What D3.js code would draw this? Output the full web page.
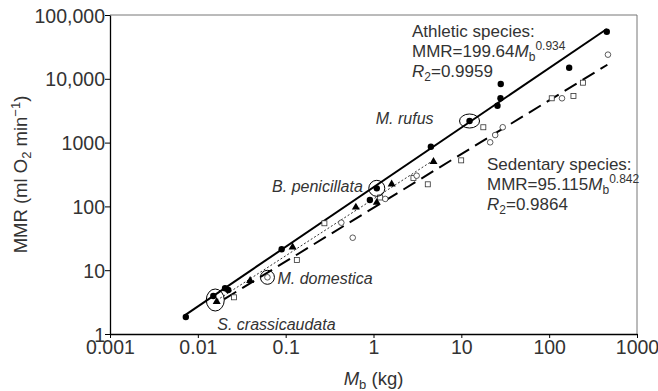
<!DOCTYPE html>
<html>
<head>
<meta charset="utf-8">
<script src="https://cdn.jsdelivr.net/npm/d3@7"></script>
<style>
    body { margin: 0; background: #fff; }
    text { font-family: "Liberation Sans", Arial, Helvetica, sans-serif; fill: #333; }
</style>
</head>
<body>
<svg id="chart"></svg>
<script>

// athletic species (filled circles)
const athleticM   = [0.0073, 0.015, 0.0204, 0.0222, 0.090, 0.91, 1.09, 4.5, 12.4, 25.8, 27.9, 28.1, 169, 453];
const athleticMMR = [1.85, 3.94, 5.2, 4.9, 21.3, 126, 192, 862, 2180, 3790, 4950, 8290, 14900, 54700];

// intermediate group (filled triangles, dotted fit)
const triM   = [0.0164, 0.0394, 0.12, 0.63, 1.09, 1.61, 4.82];
const triMMR = [3.21, 6.85, 22.9, 96.8, 115, 224, 502];

// sedentary species: open circles and open squares
const sedCircM   = [0.062, 0.43, 0.58, 1.36, 3.1, 21.3, 24.3, 29.6, 140, 467];
const sedCircMMR = [7.74, 55.6, 32.3, 131, 303, 1011, 1315, 1740, 4950, 23900];
const sedSqM     = [0.0258, 0.134, 0.276, 1.19, 2.85, 4.15, 9.96, 17.8, 107, 189, 242];
const sedSqMMR   = [3.76, 14.4, 54.4, 138, 278, 222, 527, 1740, 4950, 5370, 8690];

// fitted allometric lines
const athleticFit = {a: 199.64, b: 0.934, r2: "0.9959", range: [0.0073, 453]};
const sedentaryFit = {a: 95.115, b: 0.842, r2: "0.9864", range: [0.02, 460]};

// circled species
const speciesNames = ["S. crassicaudata", "M. domestica", "B. penicillata", "M. rufus"];
const speciesM     = [0.0158, 0.062, 1.09, 12.4];
const speciesMMR   = [3.41, 7.74, 192, 2180];

const xTicks = [0.001, 0.01, 0.1, 1, 10, 100, 1000];
const xTickLabels = ["0.001", "0.01", "0.1", "1", "10", "100", "1000"];
const yTicks = [1, 10, 100, 1000, 10000, 100000];
const yTickLabels = ["1", "10", "100", "1000", "10,000", "100,000"];

const width = 658, height = 391;
const margin = {top: 15, right: 21, bottom: 57, left: 110};

const svg = d3.select("#chart")
    .attr("width", width)
    .attr("height", height);

const x = d3.scaleLog().domain([0.001, 1000]).range([margin.left, width - margin.right]);
const y = d3.scaleLog().domain([1, 100000]).range([height - margin.bottom, margin.top]);

// frame (top / right in grey)
svg.append("line")
    .attr("x1", x(0.001)).attr("x2", x(1000))
    .attr("y1", y(100000)).attr("y2", y(100000))
    .attr("stroke", "#777").attr("stroke-width", 1);
svg.append("line")
    .attr("x1", x(1000)).attr("x2", x(1000))
    .attr("y1", y(100000)).attr("y2", y(1))
    .attr("stroke", "#777").attr("stroke-width", 1);

// axes
const xAxis = svg.append("g")
    .attr("transform", `translate(0,${y(1)})`)
    .call(d3.axisBottom(x).tickValues(xTicks).tickFormat((d, i) => xTickLabels[i]).tickSize(4).tickSizeOuter(0));
const yAxis = svg.append("g")
    .attr("transform", `translate(${x(0.001)},0)`)
    .call(d3.axisLeft(y).tickValues(yTicks).tickFormat((d, i) => yTickLabels[i]).tickSize(5).tickSizeOuter(0));

[xAxis, yAxis].forEach(g => {
    g.select(".domain").attr("stroke", "#000").attr("stroke-width", 1.3);
    g.selectAll(".tick line").attr("stroke", "#000");
    g.selectAll(".tick text")
        .style("font-family", '"Liberation Sans", Arial, sans-serif')
        .style("font-size", "19.5px")
        .attr("fill", "#333");
});
xAxis.selectAll(".tick text").attr("dy", "0.8em").attr("y", 4);
yAxis.selectAll(".tick text").attr("x", -5).attr("dy", "0.36em");

// axis titles
const xLabel = svg.append("text")
    .attr("x", (x(0.001) + x(1000)) / 2)
    .attr("y", 385)
    .attr("text-anchor", "middle")
    .style("font-size", "18.5px");
xLabel.append("tspan").style("font-style", "italic").text("M");
xLabel.append("tspan").attr("dy", 4).style("font-size", "13px").text("b");
xLabel.append("tspan").attr("dy", -4).text(" (kg)");

const yLabel = svg.append("text")
    .attr("transform", `translate(27,${(y(1) + y(100000)) / 2}) rotate(-90)`)
    .attr("text-anchor", "middle")
    .style("font-size", "18.5px");
yLabel.append("tspan").text("MMR (ml O");
yLabel.append("tspan").attr("dy", 4).style("font-size", "13px").text("2");
yLabel.append("tspan").attr("dy", -4).text(" min");
yLabel.append("tspan").attr("dy", -7).style("font-size", "13px").text("\u22121");
yLabel.append("tspan").attr("dy", 7).text(")");

// fit lines
function fitPoints(fit) {
    return fit.range.map(m => [m, fit.a * Math.pow(m, fit.b)]);
}
const line = d3.line().x(d => x(d[0])).y(d => y(d[1]));

svg.append("path")
    .attr("d", line(fitPoints(athleticFit)))
    .attr("stroke", "#000").attr("stroke-width", 2).attr("fill", "none");
svg.append("path")
    .attr("d", line(fitPoints(sedentaryFit)))
    .attr("stroke", "#000").attr("stroke-width", 2).attr("fill", "none")
    .attr("stroke-dasharray", "14,7");

// least squares on log-log for the triangle group
const lx = triM.map(Math.log10), ly = triMMR.map(Math.log10);
const mx = d3.mean(lx), my = d3.mean(ly);
const slope = d3.sum(lx, (v, i) => (v - mx) * (ly[i] - my)) / d3.sum(lx, v => (v - mx) * (v - mx));
const icpt = my - slope * mx;
const triRange = d3.extent(triM);
svg.append("path")
    .attr("d", line(triRange.map(m => [m, Math.pow(10, icpt + slope * Math.log10(m))])))
    .attr("stroke", "#333").attr("stroke-width", 1).attr("fill", "none")
    .attr("stroke-dasharray", "2,2");

// markers
const marks = svg.append("g");
marks.selectAll(".sq").data(d3.zip(sedSqM, sedSqMMR)).join("rect")
    .attr("x", d => x(d[0]) - 2.5).attr("y", d => y(d[1]) - 2.5)
    .attr("width", 5).attr("height", 5)
    .attr("fill", "#fff").attr("stroke", "#333").attr("stroke-width", 0.8);
marks.selectAll(".oc").data(d3.zip(sedCircM, sedCircMMR)).join("circle")
    .attr("cx", d => x(d[0])).attr("cy", d => y(d[1])).attr("r", 2.8)
    .attr("fill", "#fff").attr("stroke", "#333").attr("stroke-width", 0.8);
marks.selectAll(".tri").data(d3.zip(triM, triMMR)).join("path")
    .attr("d", d3.symbol(d3.symbolTriangle, 28))
    .attr("transform", d => `translate(${x(d[0])},${y(d[1])})`)
    .attr("fill", "#000");
marks.selectAll(".fc").data(d3.zip(athleticM, athleticMMR)).join("circle")
    .attr("cx", d => x(d[0])).attr("cy", d => y(d[1])).attr("r", 3.2)
    .attr("fill", "#000");

// circled species
const ellipseR = [[9, 11], [7, 7], [8, 8], [10, 7]];
const labelOff = [[2, 30, "start"], [10, 7, "start"], [-14, 4, "end"], [-36, 3, "end"]];
speciesNames.forEach((name, i) => {
    const cx = x(speciesM[i]), cy = y(speciesMMR[i]);
    svg.append("ellipse")
        .attr("cx", cx).attr("cy", cy)
        .attr("rx", ellipseR[i][0]).attr("ry", ellipseR[i][1])
        .attr("fill", "none").attr("stroke", "#000").attr("stroke-width", 1);
    svg.append("text")
        .attr("x", cx + labelOff[i][0]).attr("y", cy + labelOff[i][1])
        .attr("text-anchor", labelOff[i][2])
        .style("font-size", "16px").style("font-style", "italic")
        .text(name);
});

// equation blocks
function equation(x0, y0, title, fit) {
    const g = svg.append("g").style("font-size", "17px");
    g.append("text").attr("x", x0).attr("y", y0).text(title);
    const t = g.append("text").attr("x", x0).attr("y", y0 + 20);
    t.append("tspan").text("MMR=" + fit.a);
    t.append("tspan").style("font-style", "italic").text("M");
    t.append("tspan").attr("dy", 4).style("font-size", "12px").text("b");
    t.append("tspan").attr("dy", -11).style("font-size", "12px").text(fit.b.toFixed(3));
    const r = g.append("text").attr("x", x0).attr("y", y0 + 40);
    r.append("tspan").style("font-style", "italic").text("R");
    r.append("tspan").attr("dy", 4).style("font-size", "12px").text("2");
    r.append("tspan").attr("dy", -4).text("=" + fit.r2);
}
equation(412, 37, "Athletic species:", athleticFit);
equation(487, 170, "Sedentary species:", sedentaryFit);

</script>
</body>
</html>
